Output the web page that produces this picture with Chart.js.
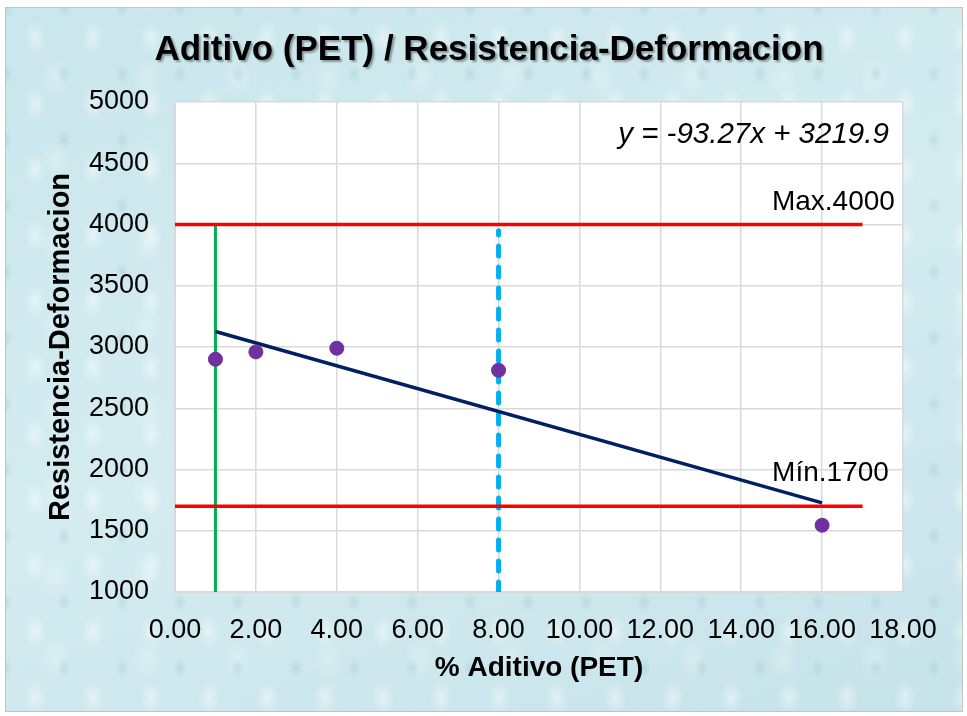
<!DOCTYPE html>
<html>
<head>
<meta charset="utf-8">
<script src="https://cdn.jsdelivr.net/npm/chart.js@4"></script>
<style>
  html, body { margin: 0; padding: 0; background: #fff; }
  #frame {
    position: absolute; left: 5px; top: 7px; width: 956px; height: 703px;
    border: 1px solid #c4c4c4;
    background:
      radial-gradient(ellipse 16px 24px at 50% 45%, rgba(255,255,255,0.45), rgba(255,255,255,0) 70%) 0 0 / 58px 66px,
      radial-gradient(ellipse 10px 14px at 50% 50%, rgba(140,190,200,0.30), rgba(140,190,200,0) 70%) 29px 33px / 58px 66px,
      radial-gradient(ellipse 22px 30px at 40% 60%, rgba(255,255,255,0.25), rgba(255,255,255,0) 70%) 13px 20px / 91px 83px,
      linear-gradient(160deg, #c9e6ec 0%, #d4ecf0 50%, #c6e3ea 100%);
  }
  #wrap { position: absolute; left: 0; top: 0; width: 967px; height: 716px; }
</style>
</head>
<body>
<div id="frame"></div>
<div id="wrap"><canvas id="chart" width="967" height="716"></canvas></div>
<script>
const FONT = "'Liberation Sans', Arial, sans-serif";

// measured points
const aditivo = [1, 2, 4, 8, 16];
const resistencia = [2900, 2960, 2990, 2810, 1545];

// linear fit shown on the chart
const slope = -93.27;
const intercept = 3219.9;

// limits
const maxLimit = 4000;
const minLimit = 1700;
const limitXs = [0, 17];

// vertical markers
const greenX = 1;
const greenYs = [1000, 4000];
const blueX = 8;
const blueYs = [1000, 3950];

const xTicks = [0, 2, 4, 6, 8, 10, 12, 14, 16, 18];
const yTicks = [1000, 1500, 2000, 2500, 3000, 3500, 4000, 4500, 5000];

const pts = aditivo.map((x, i) => ({ x: x, y: resistencia[i] }));
const fitXs = [aditivo[0], aditivo[aditivo.length - 1]];
const fit = fitXs.map(x => ({ x: x, y: slope * x + intercept }));

/* white plot area */
const plotBg = {
  id: "plotBg",
  beforeDraw(chart) {
    const a = chart.chartArea, c = chart.ctx;
    c.save();
    c.fillStyle = "#ffffff";
    c.fillRect(a.left, a.top, a.right - a.left, a.bottom - a.top);
    c.restore();
  }
};

/* title, equation and limit labels */
const labels = {
  id: "labels",
  afterDraw(chart) {
    const c = chart.ctx, xs = chart.scales.x, ys = chart.scales.y;
    c.save();
    c.fillStyle = "#000";
    c.textBaseline = "middle";

    c.textAlign = "center";
    c.font = "bold 35px " + FONT;
    c.shadowColor = "rgba(0,0,0,0.35)";
    c.shadowOffsetX = 2;
    c.shadowOffsetY = 2;
    c.shadowBlur = 2;
    c.fillText("Aditivo (PET) / Resistencia-Deformacion", 489, 50);
    c.shadowColor = "transparent";

    c.textAlign = "right";
    c.font = "italic 29.5px " + FONT;
    c.fillText("y = -93.27x + 3219.9", xs.getPixelForValue(17.65), ys.getPixelForValue(4730));
    c.font = "28px " + FONT;
    c.fillText("Max.4000", xs.getPixelForValue(17.8), ys.getPixelForValue(maxLimit) - 22);
    c.fillText("Mín.1700", xs.getPixelForValue(17.65), ys.getPixelForValue(minLimit) - 33);
    c.restore();
  }
};

const lineDs = (data, color, width, extra) => Object.assign({
  type: "line", data: data, borderColor: color, borderWidth: width,
  pointRadius: 0, fill: false, tension: 0
}, extra || {});

new Chart(document.getElementById("chart"), {
  type: "scatter",
  data: {
    datasets: [
      {
        label: "Resistencia",
        data: pts,
        backgroundColor: "#7030a0",
        borderColor: "#7030a0",
        pointRadius: 7,
        order: 0
      },
      lineDs(fit, "#002060", 3.5, { order: 1 }),
      lineDs(limitXs.map(x => ({ x: x, y: maxLimit })), "#ff0000", 3.5, { order: 2 }),
      lineDs(limitXs.map(x => ({ x: x, y: minLimit })), "#ff0000", 3.5, { order: 2 }),
      lineDs(greenYs.map(y => ({ x: greenX, y: y })), "#00b050", 3, { order: 3 }),
      lineDs(blueYs.map(y => ({ x: blueX, y: y })), "#00b0f0", 5, { order: 3, borderDash: [10, 11], borderCapStyle: "round" })
    ]
  },
  options: {
    responsive: false,
    animation: false,
    layout: { padding: { left: 0, right: 64, top: 102, bottom: 0 } },
    plugins: {
      legend: { display: false },
      tooltip: { enabled: false },
      title: { display: false }
    },
    scales: {
      x: {
        type: "linear",
        min: 0, max: 18,
        afterBuildTicks: s => { s.ticks = xTicks.map(v => ({ value: v })); },
        afterFit: s => { s.height = 124; },
        ticks: {
          color: "#000",
          font: { family: FONT, size: 27 },
          padding: 22,
          maxRotation: 0,
          autoSkip: false,
          callback: v => Number(v).toFixed(2)
        },
        grid: { color: "#d9d9d9", lineWidth: 1.5, drawTicks: false },
        border: { color: "#d9d9d9" },
        title: {
          display: true,
          text: "% Aditivo (PET)",
          color: "#000",
          font: { family: FONT, size: 28, weight: "bold" },
          padding: { top: 30, bottom: 31 }
        }
      },
      y: {
        min: 1000, max: 5000,
        afterBuildTicks: s => { s.ticks = yTicks.map(v => ({ value: v })); },
        afterFit: s => { s.width = 175; },
        ticks: {
          color: "#000",
          font: { family: FONT, size: 27 },
          padding: 26,
          autoSkip: false,
          callback: v => String(v)
        },
        grid: { color: "#d9d9d9", lineWidth: 1.5, drawTicks: false },
        border: { color: "#d9d9d9" },
        title: {
          display: true,
          text: "Resistencia-Deformacion",
          color: "#000",
          font: { family: FONT, size: 29, weight: "bold" },
          padding: { top: 44, bottom: 44 }
        }
      }
    }
  },
  plugins: [plotBg, labels]
});
</script>
</body>
</html>
